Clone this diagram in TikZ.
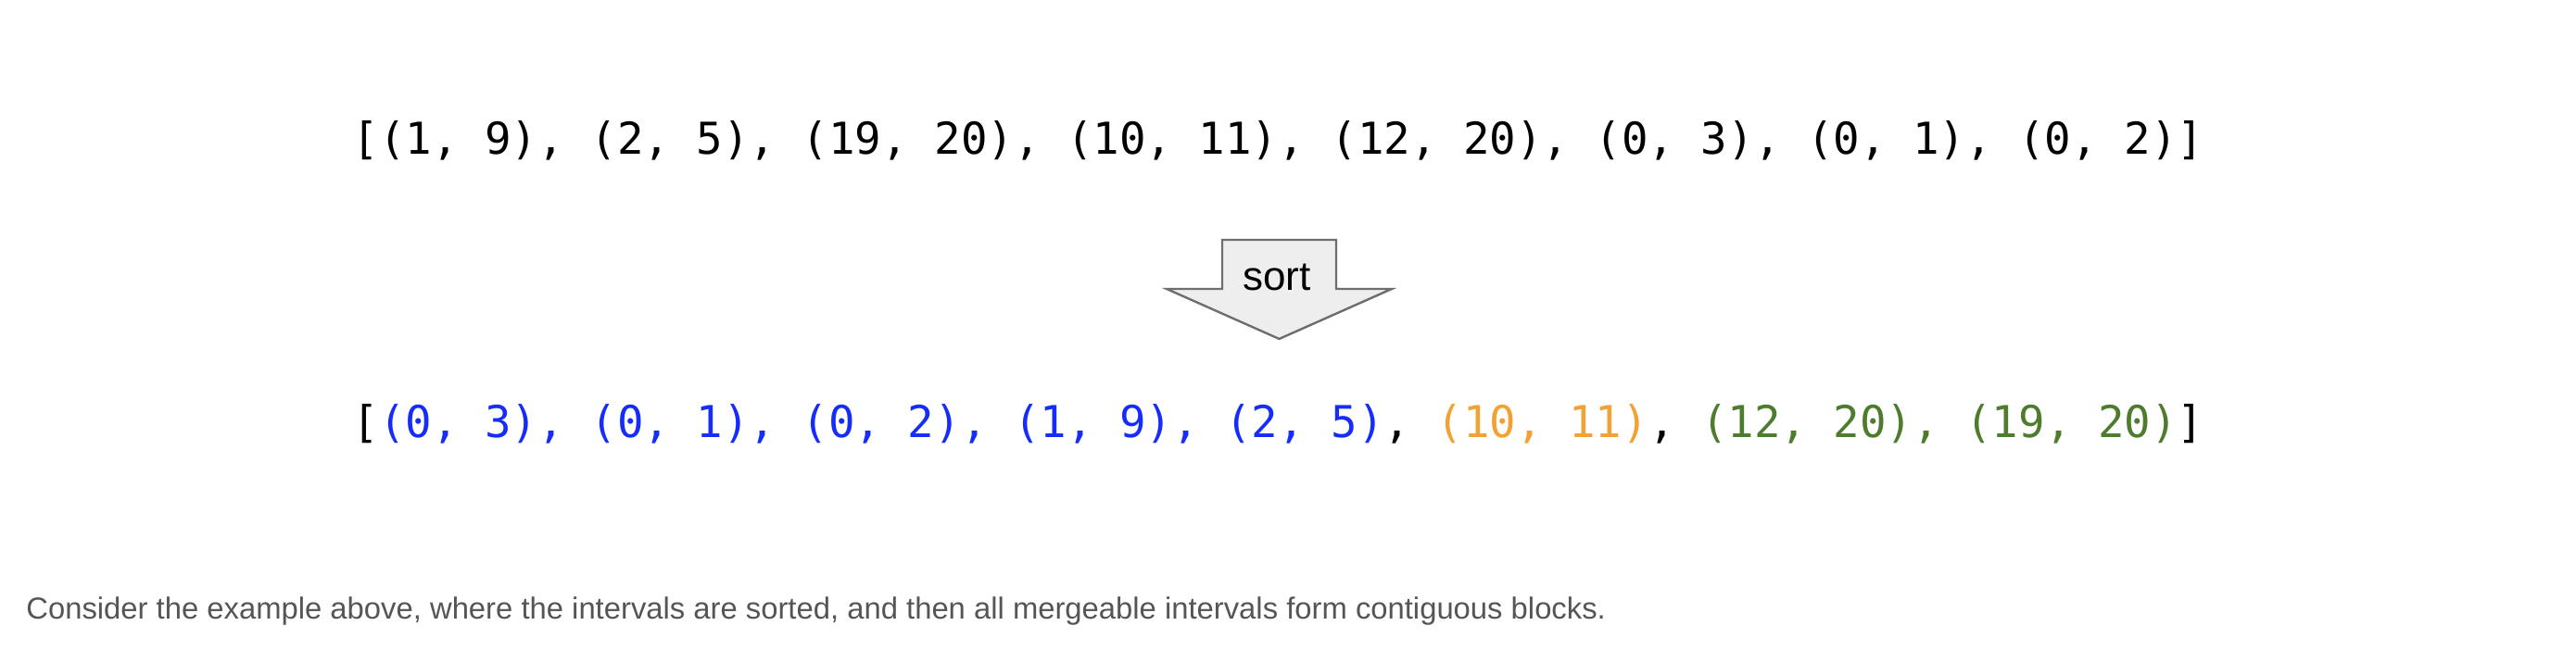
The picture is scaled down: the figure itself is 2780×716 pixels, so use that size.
\documentclass[tikz,border=0pt]{standalone}
\usepackage{fontspec}
\setmainfont{Liberation Sans}
\newfontfamily\codefont{DejaVu Sans Mono}
\usepackage{tikz}
\usetikzlibrary{calc}
\definecolor{mergeblue}{RGB}{22,44,250}
\definecolor{mergeorange}{RGB}{242,162,52}
\definecolor{mergegreen}{RGB}{78,124,46}
\definecolor{captiongray}{RGB}{85,85,85}
\definecolor{arrowfill}{RGB}{238,238,238}
\definecolor{arrowline}{RGB}{110,110,110}
\tikzset{
	listline/.style={inner sep=0pt, anchor=base, font=\codefont\fontsize{23.7}{28}\selectfont},
	caption/.style={inner sep=0pt, anchor=base west, text=captiongray, font=\fontsize{16.4}{20}\selectfont},
	sortarrow/.style={line width=1.2pt, draw=arrowline, fill=arrowfill, line join=miter}
}

\begin{document}
\begin{tikzpicture}[x=0.5pt, y=-0.5pt]
			%%%%% START %%%%%
			\useasboundingbox (0, 0) rectangle (2780, 716);
			
			\node[listline] (unsorted) at (1379.5, 167) {[(1, 9), (2, 5), (19, 20), (10, 11), (12, 20), (0, 3), (0, 1), (0, 2)]};
			
			\draw[sortarrow] (1319, 259) -- (1442, 259) -- (1442, 312) -- (1502, 312) -- (1380.5, 366) -- (1259, 312) -- (1319, 312) -- cycle;
			\node[inner sep=0pt, anchor=base, font=\fontsize{22}{26}\selectfont] (sort) at (1378, 314) {sort};
			
			\node[listline] (sorted) at (1379.5, 473) {[\textcolor{mergeblue}{(0, 3), (0, 1), (0, 2), (1, 9), (2, 5)}, \textcolor{mergeorange}{(10, 11)}, \textcolor{mergegreen}{(12, 20), (19, 20)}]};
			
			\node[caption] (note) at (28, 668) {Consider the example above, where the intervals are sorted, and then all mergeable intervals form contiguous blocks.};
			%%%%% END %%%%%
		\end{tikzpicture}
\end{document}
